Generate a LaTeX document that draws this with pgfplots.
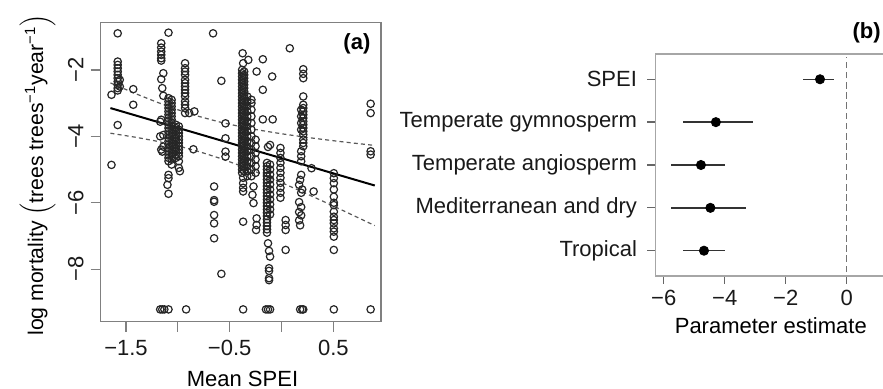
\documentclass[border=0pt]{standalone}
\usepackage{fontspec}
\setmainfont{Liberation Sans}
\usepackage{pgfplots}
\pgfplotsset{compat=1.18}
\usepackage{pgfplotstable}

\pgfplotstableread{
x y ep em
-0.875 5 0.465 0.565
-4.29 4 1.21 1.07
-4.78 3 0.80 0.98
-4.47 2 1.17 1.29
-4.68 1 0.70 0.68
}\estdata

\begin{document}
\begin{tikzpicture}
\useasboundingbox (0,0) rectangle (441.5pt,194.5pt);
\begin{axis}[
  at={(50.35pt,33.65pt)}, anchor=south west,
  scale only axis, width=140.15pt, height=149.5pt,
  xmin=-1.744, xmax=0.96, ymin=-9.58, ymax=-0.58,
  xtick={-1.5,-1,-0.5,0,0.5}, xticklabels={−1.5,,−0.5,,0.5},
  ytick={-8,-6,-4,-2}, yticklabels={−8,−6,−4,−2},
  tick align=outside, xtick pos=left, ytick pos=left,
  major tick length=5pt,
  axis line style={black!50, line width=0.65pt},
  every tick/.style={black!50, line width=0.65pt},
  font=\fontsize{11}{13}\selectfont,
  xticklabel style={anchor=base, yshift=-12pt, text=black!90},
  yticklabel style={xshift=-3.7pt, rotate=90, anchor=base, text=black!90},
  clip=false,
]
\addplot[only marks, mark=o, mark size=1.85pt, black!85, mark options={line width=0.6pt}] coordinates {
(-1.64,-2.75) (-1.64,-4.86) (-1.58,-0.90) (-1.58,-1.75) (-1.58,-1.85) (-1.58,-1.95) (-1.58,-2.05) (-1.58,-2.15)
(-1.58,-2.25) (-1.58,-2.35) (-1.58,-2.45) (-1.58,-2.55) (-1.58,-2.62) (-1.56,-2.30) (-1.56,-2.50) (-1.58,-3.66)
(-1.43,-2.58) (-1.43,-3.05)
(-1.16,-1.20) (-1.16,-1.33) (-1.16,-1.45) (-1.16,-1.55) (-1.16,-1.65) (-1.16,-1.72) (-1.14,-2.10) (-1.16,-2.28)
(-1.15,-2.55) (-1.14,-2.78) (-1.09,-0.88) (-1.16,-3.50) (-1.14,-3.96) (-1.14,-4.31) (-1.15,-4.46) (-1.17,-3.56)
(-1.17,-4.00) (-1.16,-4.40)
(-1.09,-2.85) (-1.09,-2.95) (-1.09,-3.05) (-1.09,-3.15) (-1.09,-3.25) (-1.09,-3.35) (-1.09,-3.45) (-1.09,-3.55)
(-1.09,-3.65) (-1.09,-3.75) (-1.09,-3.85) (-1.09,-3.95) (-1.09,-4.05) (-1.09,-4.15) (-1.09,-4.25) (-1.09,-4.35)
(-1.09,-4.45) (-1.09,-4.55) (-1.09,-4.65) (-1.09,-4.75)
(-1.06,-2.90) (-1.06,-3.00) (-1.06,-3.10) (-1.06,-3.20) (-1.06,-3.30) (-1.06,-3.40) (-1.06,-3.50) (-1.06,-3.60)
(-1.06,-3.70) (-1.06,-3.80) (-1.06,-3.90) (-1.06,-4.00) (-1.06,-4.10) (-1.06,-4.20) (-1.06,-4.30) (-1.06,-4.40)
(-1.06,-4.50) (-1.06,-4.60) (-1.06,-4.70) (-1.06,-4.85)
(-1.02,-3.65) (-1.02,-3.75) (-1.02,-3.85) (-1.02,-3.95) (-1.02,-4.05) (-1.02,-4.15) (-1.02,-4.25) (-1.02,-4.35)
(-1.02,-4.45) (-1.02,-4.55) (-1.02,-4.65)
(-0.99,-3.70) (-0.99,-3.80) (-0.99,-3.90) (-0.99,-4.00) (-0.99,-4.10) (-0.99,-4.20) (-0.99,-4.30) (-0.99,-4.40)
(-0.99,-4.50) (-0.99,-4.60) (-0.99,-4.75) (-0.99,-4.95)
(-1.09,-5.16) (-1.09,-5.26) (-1.10,-5.46) (-1.09,-5.73) (-0.98,-5.05)
(-0.93,-1.80) (-0.93,-1.95) (-0.93,-2.05) (-0.93,-2.15) (-0.93,-2.30) (-0.93,-2.40) (-0.93,-2.50) (-0.93,-2.60)
(-0.93,-2.70) (-0.93,-2.80) (-0.93,-2.95) (-0.93,-3.05) (-0.93,-3.15) (-0.93,-3.30)
(-0.89,-3.30) (-0.84,-3.25) (-0.85,-4.39) (-0.66,-0.90) (-0.58,-2.33)
(-0.65,-5.51) (-0.65,-5.92) (-0.65,-5.97) (-0.65,-6.37) (-0.65,-6.62) (-0.65,-7.07) (-0.58,-8.14)
(-0.54,-3.61) (-0.54,-4.06) (-0.54,-4.46) (-0.54,-4.61)
(-0.375,-1.50) (-0.37,-1.80) (-0.32,-1.70) (-0.18,-1.68) (-0.24,-2.05) (-0.09,-2.20) (-0.18,-2.60) (-0.29,-2.90)
(-0.18,-3.49) (-0.085,-3.49)
(-0.38,-2.0) (-0.38,-2.1) (-0.38,-2.2) (-0.38,-2.3) (-0.38,-2.4) (-0.38,-2.5) (-0.38,-2.6) (-0.38,-2.7)
(-0.38,-2.8) (-0.38,-2.9) (-0.38,-3.0) (-0.38,-3.1) (-0.38,-3.2) (-0.38,-3.3) (-0.38,-3.4) (-0.38,-3.5)
(-0.38,-3.6) (-0.38,-3.7) (-0.38,-3.8) (-0.38,-3.9) (-0.38,-4.0) (-0.38,-4.1) (-0.38,-4.2) (-0.38,-4.3)
(-0.38,-4.4) (-0.38,-4.5) (-0.38,-4.6) (-0.38,-4.7) (-0.38,-4.8) (-0.38,-4.9) (-0.38,-5.0) (-0.38,-5.1)
(-0.36,-2.05) (-0.36,-2.15) (-0.36,-2.25) (-0.36,-2.35) (-0.36,-2.45) (-0.36,-2.55) (-0.36,-2.65) (-0.36,-2.75)
(-0.36,-2.85) (-0.36,-2.95) (-0.36,-3.05) (-0.36,-3.15) (-0.36,-3.25) (-0.36,-3.35) (-0.36,-3.45) (-0.36,-3.55)
(-0.36,-3.65) (-0.36,-3.75) (-0.36,-3.85) (-0.36,-3.95) (-0.36,-4.05) (-0.36,-4.15) (-0.36,-4.25) (-0.36,-4.35)
(-0.36,-4.45) (-0.36,-4.55) (-0.36,-4.65) (-0.36,-4.75) (-0.36,-4.85) (-0.36,-4.95) (-0.36,-5.05)
(-0.33,-2.80) (-0.33,-2.95) (-0.33,-3.10) (-0.33,-3.25) (-0.33,-3.40) (-0.33,-3.55) (-0.33,-3.70) (-0.33,-3.85)
(-0.33,-4.00) (-0.33,-4.15) (-0.33,-4.30) (-0.33,-4.45) (-0.33,-4.60) (-0.33,-4.75) (-0.33,-4.90) (-0.33,-5.05)
(-0.33,-5.20)
(-0.29,-3.0) (-0.29,-3.2) (-0.29,-3.4) (-0.29,-3.6) (-0.29,-3.8) (-0.29,-4.0) (-0.29,-4.2) (-0.29,-4.4)
(-0.29,-4.6) (-0.29,-4.8) (-0.29,-5.0) (-0.29,-5.2)
(-0.25,-4.1) (-0.25,-4.3) (-0.25,-4.5) (-0.25,-4.7) (-0.25,-4.9) (-0.25,-5.1)
(-0.37,-5.25) (-0.37,-5.41) (-0.37,-5.55) (-0.37,-5.66) (-0.37,-6.57) (-0.37,-9.21)
(-0.27,-5.51) (-0.28,-5.76) (-0.27,-6.01) (-0.24,-6.47) (-0.24,-6.67) (-0.245,-6.82)
(-0.14,-4.8) (-0.14,-4.9) (-0.14,-5.0) (-0.14,-5.1) (-0.14,-5.2) (-0.14,-5.3) (-0.14,-5.4) (-0.14,-5.5)
(-0.14,-5.6) (-0.14,-5.7) (-0.14,-5.8) (-0.14,-5.9) (-0.14,-6.0) (-0.14,-6.1) (-0.14,-6.2) (-0.14,-6.3)
(-0.14,-6.4) (-0.14,-6.5) (-0.14,-6.6) (-0.14,-6.7) (-0.14,-6.8) (-0.14,-6.9)
(-0.11,-4.85) (-0.11,-5.00) (-0.11,-5.15) (-0.11,-5.30) (-0.11,-5.45) (-0.11,-5.60) (-0.11,-5.75) (-0.11,-5.90)
(-0.11,-6.05) (-0.11,-6.20) (-0.11,-6.35)
(-0.11,-4.26) (-0.13,-4.32) (-0.13,-7.22) (-0.12,-7.45) (-0.11,-7.62) (-0.12,-7.97) (-0.12,-8.05) (-0.12,-8.27)
(-0.12,-8.33) (-0.15,-9.21) (-0.13,-9.21) (-0.11,-9.21)
(-0.01,-4.35) (-0.01,-4.50) (-0.01,-4.65) (-0.01,-4.80) (-0.01,-4.95) (-0.01,-5.10) (-0.01,-5.25) (-0.01,-5.40)
(-0.01,-5.55) (-0.01,-5.70) (-0.01,-5.85)
(0.04,-6.52) (0.04,-6.67) (0.04,-6.82) (0.04,-7.42) (0.08,-1.35)
(0.21,-1.98) (0.21,-2.12) (0.21,-2.25) (0.21,-2.80) (0.21,-3.05) (0.21,-3.15) (0.21,-3.25) (0.21,-3.35)
(0.21,-3.45) (0.21,-3.55) (0.21,-3.65) (0.21,-3.75) (0.21,-3.85) (0.21,-3.95) (0.21,-4.10) (0.21,-4.20)
(0.21,-4.30)
(0.19,-3.20) (0.19,-3.40) (0.19,-3.60) (0.19,-3.80) (0.19,-4.45) (0.19,-4.60) (0.19,-4.75)
(0.19,-5.16) (0.18,-5.31) (0.17,-5.46) (0.20,-5.60) (0.19,-5.70) (0.17,-5.98) (0.19,-6.13) (0.17,-6.28)
(0.19,-6.38) (0.17,-6.53) (0.18,-6.68)
(0.31,-5.66) (0.29,-4.96) (0.18,-9.21) (0.20,-9.21) (0.21,-9.21)
(0.505,-5.11) (0.505,-5.26) (0.505,-5.41) (0.505,-5.60) (0.505,-5.82) (0.505,-6.00) (0.505,-6.07) (0.505,-6.27)
(0.505,-6.42) (0.505,-6.52) (0.505,-6.62) (0.505,-6.77) (0.505,-6.87) (0.505,-7.02) (0.505,-7.42) (0.505,-9.21)
(0.86,-3.02) (0.86,-3.30) (0.86,-4.45) (0.86,-4.55) (0.86,-9.21)
(-1.17,-9.21) (-1.15,-9.21) (-1.13,-9.21) (-1.09,-9.21) (-0.92,-9.21)
};
\addplot[black, line width=1pt] coordinates {(-1.65,-3.15) (0.90,-5.481)};
\addplot[black!65, line width=0.6pt, dash pattern=on 2pt off 1.6pt] coordinates {
(-1.65,-2.393) (-1.4,-2.726) (-1.2,-2.974) (-1.0,-3.200) (-0.8,-3.398) (-0.6,-3.566) (-0.4,-3.706)
(-0.2,-3.822) (0,-3.923) (0.2,-4.013) (0.4,-4.094) (0.6,-4.170) (0.9,-4.275)};
\addplot[black!65, line width=0.6pt, dash pattern=on 2pt off 1.6pt] coordinates {
(-1.65,-3.907) (-1.4,-4.032) (-1.2,-4.148) (-1.0,-4.288) (-0.8,-4.456) (-0.6,-4.654) (-0.4,-4.880)
(-0.2,-5.128) (0,-5.393) (0.2,-5.669) (0.4,-5.954) (0.6,-6.244) (0.9,-6.687)};
\node[font=\fontsize{11}{13}\selectfont\bfseries] at (rel axis cs:0.914,0.931) {(a)};
\end{axis}

\node[rotate=90, anchor=base, font=\fontsize{10.6}{13}\selectfont] at (21.5pt,107pt)
  {log mortality $\Big($trees trees\textsuperscript{−1}year\textsuperscript{−1}$\Big)$};
\node[anchor=base, font=\fontsize{11}{13}\selectfont] at (121.25pt,1.15pt) {Mean SPEI};

\begin{axis}[
  at={(327.6pt,56.5pt)}, anchor=south west,
  scale only axis, width=115.25pt, height=111pt,
  xmin=-6.28, xmax=1.28, ymin=0.41, ymax=5.59,
  xtick={-6,-4,-2,0}, xticklabels={−6,−4,−2,0},
  ytick={1,2,3,4,5},
  yticklabels={Tropical,Mediterranean and dry,Temperate angiosperm,Temperate gymnosperm,SPEI},
  tick align=outside, xtick pos=left, ytick pos=left,
  major tick length=4pt,
  axis line style={black!35, line width=0.65pt},
  every tick/.style={black!60, line width=0.65pt},
  font=\fontsize{11}{13}\selectfont,
  xticklabel style={anchor=base, yshift=-10.9pt, text=black!90},
  yticklabel style={xshift=-1.6pt, text=black!90},
  clip=false,
]
\addplot[black!55, line width=0.65pt, dash pattern=on 3.3pt off 1.8pt] coordinates {(0,0.50) (0,5.52)};
\addplot[only marks, mark=*, mark size=2.3pt, black,
  error bars/.cd, x dir=both, x explicit,
  error bar style={black!80, line width=0.75pt}, error mark=none]
  table[x=x, y=y, x error plus=ep, x error minus=em] {\estdata};
\end{axis}
\node[anchor=base, font=\fontsize{11}{13}\selectfont] at (385.4pt,27.85pt) {Parameter estimate};
\node[font=\fontsize{11}{13}\selectfont\bfseries] at (433.35pt,177.85pt) {(b)};
\end{tikzpicture}
\end{document}
